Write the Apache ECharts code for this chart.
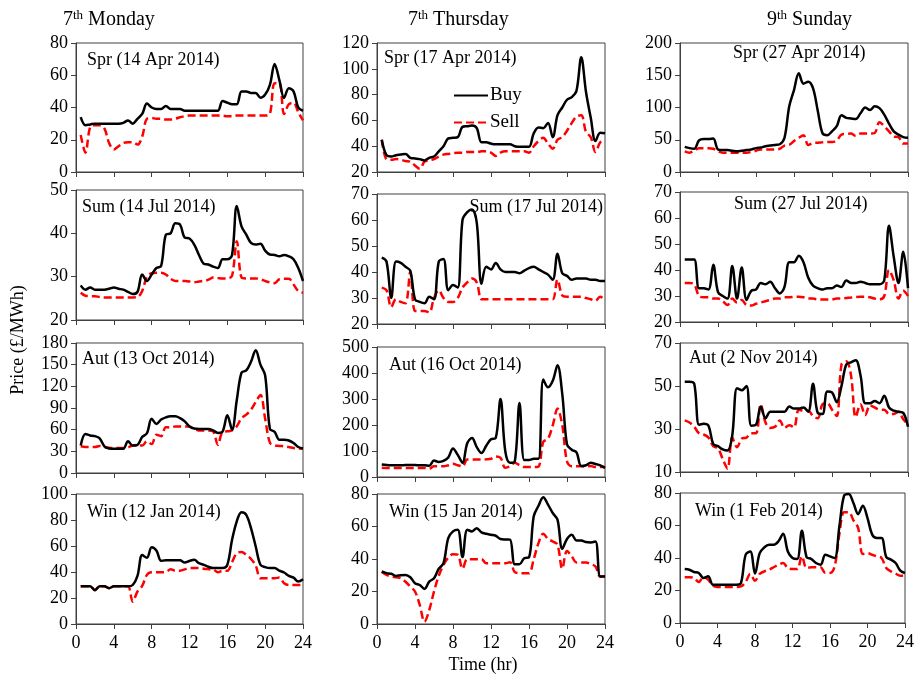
<!DOCTYPE html>
<html><head><meta charset="utf-8">
<script src="https://cdn.jsdelivr.net/npm/echarts@6/dist/echarts.min.js"></script>
<style>html,body{margin:0;padding:0;background:#fff}#c{width:917px;height:674px}</style>
</head><body><div id="c"></div>
<script>
// x positions (hour of day, half-hourly)
const hours = [0.5,1,1.5,2,2.5,3,3.5,4,4.5,5,5.5,6,6.5,7,7.5,8,8.5,9,9.5,10,10.5,11,11.5,12,
  12.5,13,13.5,14,14.5,15,15.5,16,16.5,17,17.5,18,18.5,19,19.5,20,20.5,21,21.5,22,22.5,23,23.5,24];
const xTicks = [0,4,8,12,16,20,24];

// 7th Monday
const monSprBuy = [34,29,29.5,30,30,30,30,30,30,30.5,32,30,33,36,42.5,40,39,39,41,39,39,39,38,38,38,38,38,38,38,38,44,43,42,42,50,50,49,49,46,48,54,67,57,46,52,50,40,38];
const monSprSell = [23,12,28,29,29,27,18,14,16,18,18.5,18.5,17,22,33,33.5,33,33,32.5,32.5,33,34,34.5,35,35,35,35,35,35,35,35,34.5,34.5,35,35,35,35,35,35,35,36,55,55,36,42,43,37,32];
const monSumBuy = [28,27,27.5,27,27,27,27.2,27.5,27.2,27,26.5,26,26.5,30.5,29,30.5,32,32.5,39.7,40,42.3,42,39,38.8,37.4,35,33,32.8,32.3,32,34,34,35,46.3,41.6,39.7,37.8,37.4,37.6,36,35.1,35,34.7,35,34.7,34,32,29];
const monSumSell = [26.3,25.6,25.5,25.5,25.3,25.2,25.2,25.2,25.2,25.2,25.2,25.2,25.3,26.7,30,30.8,30.9,30.9,30.5,29.5,29,29,29,28.9,28.7,28.9,29,29.3,29.8,29.7,29.6,29.6,30.2,38.2,29.8,29.6,29.6,29.6,29.4,29,28.7,28.5,29.4,29.5,29.5,28.2,26.7,26.3];
const monAutBuy = [38,54,52,51,48,37,34,33.5,33.5,33.5,44,38,39,50,55,75,68,74,77,78.5,78.5,76,71.5,64.5,61.5,61,61,61,59,55.5,57.5,80,60,101,139,142,154,170,150,135,61,57,46,46,45,41.5,36,34];
const monAutSell = [37,36,36,36,37.4,36,35,34.6,34.5,34.5,35.5,38,39,38,44,40,53,51,63.5,63,64.5,64.5,64.5,64.5,61,59,59,59,57.7,39,56.8,57.7,59,64.6,76,80.8,87.7,98.3,108,75,42,38.3,37.5,37,36,34.6,34,33.7];
const monWinBuy = [29,29,29,26,29,29,27.5,29,29,29,29,30,37,53,51,59,56.5,48.6,49,49,49,49,47.3,48.5,49.4,46.8,45.5,44,43,43,43,45.5,64.8,79,86,84,73.8,59.6,45.5,43.7,43,43,41,39.6,37,35.7,32.6,34.4];
const monWinSell = [29,29,29,26,29,29,27.5,29,29,29,29,17.2,25,29.3,37.8,39.8,39.8,39.8,40,42.2,41,41,42,43,43,43,42.5,42.2,42,39.8,40.9,40.9,47.6,54.5,55.3,53.2,50,45,35.2,35.2,35.2,35.2,35.7,31.4,30,30,30,30];

// 7th Thursday
const thuSprBuy = [45,33,32,33,33.5,34,31,30.5,30,29,31,32,36,40,46,46.5,47,55,55.5,56,54,43,43,42,41.5,41.5,41.5,41.5,40,39.5,39.5,39.5,50,54.5,54,58,47,64,70,76,78,83,109,82,62,44,50.5,50];
const thuSprSell = [45,30,29.5,30,29.5,28.5,28,25,22.5,28,29,30,32,33.5,34,34.5,35,35,35.5,35.5,35.5,36,36,35,32.5,35,36,36,36,36,36,35,40,44,46.5,42,38,45,47,52,58,63,64,51,47,35.5,43,45];
const thuSumBuy = [45.5,44,30,44,43.5,42,40.5,29.5,28.5,28,30.5,29.5,44,45,33,35,34,60,63,64,59,35.5,42,41,43.5,41,40,40,40,39.5,40.5,41.5,42,41,40,39,37,47,39.5,38.5,37,37.5,37.5,37.5,37,37,36.5,36.5];
const thuSumSell = [34,33,26.5,29.5,28.5,28,40,25,25,25,24.5,30,33,30,28.5,28.5,30,34,36,37.5,36,29.5,29.5,29.5,29.5,29.5,29.5,29.5,29.5,29.5,29.5,29.5,29.5,29.5,29.5,29.5,29.5,37,31,30.5,30.5,30.5,30.5,30,29.5,29,30.5,29];
const thuAutBuy = [48,46,45,45,45,46,46,46,45,45,43,63,58,62,75,110,85,55,130,150,115,92,120,145,150,300,100,55,60,285,65,65,70,70,375,345,370,430,320,125,105,95,42,45,55,50,45,35];
const thuAutSell = [36,35,35,35,35,35,35,35,35,35,32,41,41,41,45,51,45,41,67,67,67,67,68,70,79,74,36,41,55,45,38,38,38,40,135,147,199,263,199,60,41,41,41,41,42,38,38,38];
const thuWinBuy = [32.3,31.3,30.9,29.6,30,30.2,28.8,25.1,24,21.6,26.1,28.2,34,37.4,52.9,57,58,41.2,58,57,59,56.4,55.5,54.9,54.3,52.3,52,51.9,36.8,36.8,40.5,41,66.3,72.8,78,73.5,68.3,64.2,46.3,52.3,54.9,51.4,51.4,50.4,50.2,50.8,29.2,29.2];
const thuWinSell = [32,30.2,29.2,28.7,28.2,26,23,20,11.7,1.4,8.6,20,29.6,36.4,40.9,43,42.6,34,39.9,39.9,39.9,39.9,37.4,37.4,37.4,37.4,37.4,38,31.9,31.3,31.3,31.3,40,49.8,55.6,52.3,50.8,48.8,34,45,41.6,37.9,37.9,37.9,36.8,35.4,29.2,29.2];

// 9th Sunday
const sunSprBuy = [39,37,36,49,51,51,52,35,34,34,33,32,33,34,35,37,38,40,41,42,43,53,102,127,153,137,140,130,95,60,57,63,71,88,84,83,82,91,100,96,102,99,89,75,63,58,54,53];
const sunSprSell = [32,30,33,37,37,37,36,32,30,30,30,30,30,30,31,33,35,35,35,35,36,41,42,48,53,57,42,45,45.5,46,46.5,46.5,49,58,59,59.5,56,59.5,59.5,59.5,60.5,77,71,63,55,54,44,44];
const sunSumBuy = [44,44,44,33,33,32.5,42,31.5,30,29,41.5,29,41,28.5,32,32.5,35,34.5,35.5,33,31,33.5,43,43,45.5,43,37,34,33,32.5,33,33,34,33.5,36,35,35,35.5,35,34.5,34.5,34.5,36,57,45,35,47,33];
const sunSumSell = [35,35,34.5,30,29.5,29.5,29,29,28,26.5,29,27.5,28.5,26.5,26.3,27,27.5,28,28.5,29,29,29.5,29.5,29.7,29.7,29.5,29,29,28.7,28.7,28.7,28.7,29,29,29.2,29.4,29.6,29.7,29.7,29.5,29,28.7,30,40,36,29,32,30];
const sunAutBuy = [52,52,51,32,32.5,31.5,23,22,20.5,20,27,49,48,50,31.5,32,40.5,35,38,38,38,38,40.5,39.5,39.5,40,38,51,37.5,37,47.5,47,42.5,50,60,61,62,55,42,42,43,42,45.5,40,38.5,38,37.5,31];
const sunAutSell = [34,33,31,28,27.4,26,22,21,16,11.5,26,21.5,25.5,26,28,28,41.5,33,30.5,31,34,30.5,31.7,30.8,39,38.5,38.5,36,35,41.5,42,39,36,60,61.5,55,35.5,41.5,36.5,41,40,39,39,37,37,38,34.5,32];
const sunWinBuy = [33.2,32.8,31.4,30.8,27.7,28.7,23.6,23.6,23.6,23.6,23.6,23.6,24.6,42,44,30.4,43,46.6,48.2,48.2,50.3,55,44,40,39.4,56.8,40.6,39.4,36.9,35.9,42,41,40,59.5,78.4,79.4,73.8,67,72.2,64.6,54.4,52.3,52.3,40.6,39,36.9,32.2,30.8];
const sunWinSell = [28.1,28.1,27.7,25.2,28.3,26.7,23,22.2,22.2,22.2,22.2,22.2,22.5,25.2,30.2,26,30.2,31.8,32.8,34.3,35.9,36.9,33.8,33.2,33.2,41,33.8,34.3,34.3,34.3,30.8,30.8,34.9,54.8,68.1,68.1,63.2,58.5,42.5,43,42,41,40,33.8,31.8,30.4,29.1,29.1];

// Text content
const columnTitles = [['7','th',' Monday'],['7','th',' Thursday'],['9','th',' Sunday']];
const panelLabels = [
  ['Spr (14 Apr 2014)','Sum (14 Jul 2014)','Aut (13 Oct 2014)','Win (12 Jan 2014)'],
  ['Spr (17 Apr 2014)','Sum (17 Jul 2014)','Aut (16 Oct 2014)','Win (15 Jan 2014)'],
  ['Spr (27 Apr 2014)','Sum (27 Jul 2014)','Aut (2 Nov 2014)','Win (1 Feb 2014)']
];
// y-axis ranges [min, max, interval]
const yRanges = [
  [[0,80,20],[20,50,10],[0,180,30],[0,100,20]],
  [[20,120,20],[20,70,10],[0,500,100],[0,80,20]],
  [[0,200,50],[20,70,10],[10,70,20],[0,80,20]]
];
const buyData = [[monSprBuy,monSumBuy,monAutBuy,monWinBuy],[thuSprBuy,thuSumBuy,thuAutBuy,thuWinBuy],[sunSprBuy,sunSumBuy,sunAutBuy,sunWinBuy]];
const sellData = [[monSprSell,monSumSell,monAutSell,monWinSell],[thuSprSell,thuSumSell,thuAutSell,thuWinSell],[sunSprSell,sunSumSell,sunAutSell,sunWinSell]];

// ---- layout (pixels) ----
const colLeft = [76, 377, 680];
const colWidth = [227, 228, 228];
const panelBox = [ // [top, bottom] per column/row
  [[43,172],[190,320],[343,473],[494,624]],
  [[43,172],[194,324],[347,477],[494,624]],
  [[43,172],[192,322],[343,472],[493,623]]
];
const labelPos = [ // [x, y, align]
  [[87,60,'left'],[82,207,'left'],[82,359,'left'],[87,512,'left']],
  [[384,58,'left'],[603,207,'right'],[389,365,'left'],[389,512,'left']],
  [[733,53,'left'],[734,204,'left'],[689,358,'left'],[695,511,'left']]
];
const titlePos = [[63,20],[408,20],[767,20]];

const FONT = '"Liberation Serif", "Times New Roman", serif';
const AX = '#404040';

const grids = [], xAxes = [], yAxes = [], series = [], graphics = [];
let gi = 0;
for (let c = 0; c < 3; c++) {
  for (let r = 0; r < 4; r++) {
    const [top, bottom] = panelBox[c][r];
    grids.push({left: colLeft[c], top: top, width: colWidth[c], height: bottom - top,
      show: true, borderColor: AX, borderWidth: 1, containLabel: false});
    xAxes.push({type: 'value', gridIndex: gi, min: xTicks[0], max: xTicks[xTicks.length-1], interval: 4,
      axisLine: {show: true, lineStyle: {color: AX, width: 1}},
      axisTick: {show: true, length: 5, lineStyle: {color: AX}},
      splitLine: {show: false},
      axisLabel: {show: r === 3, color: '#000', fontFamily: FONT, fontSize: 18, margin: 10}});
    const [mn, mx, st] = yRanges[c][r];
    yAxes.push({type: 'value', gridIndex: gi, min: mn, max: mx, interval: st,
      axisLine: {show: true, lineStyle: {color: AX, width: 1}},
      axisTick: {show: true, length: 5, lineStyle: {color: AX}},
      splitLine: {show: false},
      axisLabel: {color: '#000', fontFamily: FONT, fontSize: 18, margin: 8}});
    series.push({name: 'Buy', type: 'line', xAxisIndex: gi, yAxisIndex: gi, smooth: 0.35,
      symbol: 'none', data: hours.map((h, i) => [h, buyData[c][r][i]]),
      lineStyle: {color: '#000', width: 2.5}, itemStyle: {color: '#000'}, z: 3});
    series.push({name: 'Sell', type: 'line', xAxisIndex: gi, yAxisIndex: gi, smooth: 0.35,
      symbol: 'none', data: hours.map((h, i) => [h, sellData[c][r][i]]),
      lineStyle: {color: '#ff0000', width: 2.5, type: [8, 4]}, itemStyle: {color: '#ff0000'}, z: 2});
    const [lx, ly, la] = labelPos[c][r];
    graphics.push({type: 'text', x: lx, y: ly, z: 10,
      style: {text: panelLabels[c][r], font: '18px ' + FONT, fill: '#000', align: la, verticalAlign: 'middle'}});
    gi++;
  }
  const t = columnTitles[c];
  graphics.push({type: 'text', x: titlePos[c][0], y: titlePos[c][1],
    style: {text: '{n|' + t[0] + '}{s|' + t[1] + '}{n|' + t[2] + '}', fill: '#000', verticalAlign: 'middle', align: 'left',
      rich: {n: {fontFamily: FONT, fontSize: 20, fill: '#000', lineHeight: 24},
             s: {fontFamily: FONT, fontSize: 13, fill: '#000', lineHeight: 24, padding: [0, 0, 9, 0]}}}});
}
graphics.push({type: 'text', x: 18, y: 340, rotation: Math.PI / 2,
  style: {text: 'Price (£/MWh)', font: '18px ' + FONT, fill: '#000', align: 'center', verticalAlign: 'middle'}});
graphics.push({type: 'text', x: 483, y: 665,
  style: {text: 'Time (hr)', font: '18px ' + FONT, fill: '#000', align: 'center', verticalAlign: 'middle'}});

const chart = echarts.init(document.getElementById('c'), null, {renderer: 'canvas'});
chart.setOption({
  animation: false,
  backgroundColor: '#fff',
  grid: grids, xAxis: xAxes, yAxis: yAxes, series: series,
  legend: {data: ['Buy', 'Sell'], orient: 'vertical', left: 448, top: 81, itemWidth: 34, itemHeight: 12, itemGap: 8,
    selectedMode: false, itemStyle: {opacity: 0},
    textStyle: {fontFamily: FONT, fontSize: 19, color: '#000', padding: [0, 0, 0, -3]}},
  graphic: graphics
});
</script></body></html>
